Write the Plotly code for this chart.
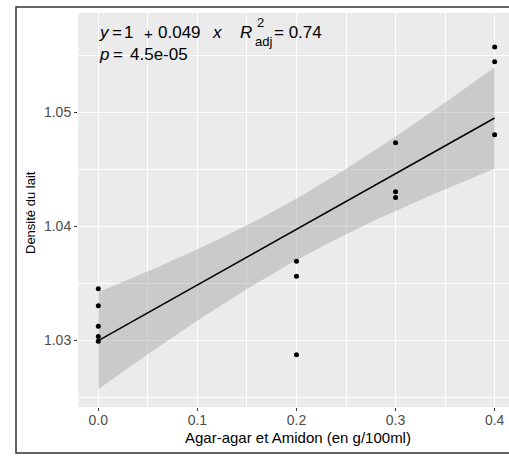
import numpy as np
import plotly.graph_objects as go

# ---- data ----
agar_amidon = [0.0, 0.0, 0.0, 0.0, 0.0, 0.2, 0.2, 0.2, 0.3, 0.3, 0.3, 0.4, 0.4, 0.4]
densite = [1.0345, 1.0330, 1.0312, 1.0303, 1.0299,
           1.0369, 1.0356, 1.0287,
           1.0473, 1.0430, 1.0425,
           1.0557, 1.0544, 1.0480]
x_ticks = [0.0, 0.1, 0.2, 0.3, 0.4]
x_ticklabels = ["0.0", "0.1", "0.2", "0.3", "0.4"]
y_ticks = [1.03, 1.04, 1.05]
y_ticklabels = ["1.03", "1.04", "1.05"]

# ---- linear fit with 95% confidence band (like geom_smooth(method="lm")) ----
x = np.array(agar_amidon)
y = np.array(densite)
n = len(x)
b1, b0 = np.polyfit(x, y, 1)
resid = y - (b0 + b1 * x)
s = np.sqrt(np.sum(resid ** 2) / (n - 2))
xbar = x.mean()
sxx = np.sum((x - xbar) ** 2)
t_crit = 2.178813  # t(0.975, df=12)
xs = np.linspace(x.min(), x.max(), 80)
ys = b0 + b1 * xs
se = s * np.sqrt(1.0 / n + (xs - xbar) ** 2 / sxx)
upper = ys + t_crit * se
lower = ys - t_crit * se

# ---- geometry helpers (pixel -> paper) ----
W, H = 509, 457
L, R, T, B = 78, 509, 13, 407
def px(xp):
    return (xp - L) / (R - L)
def py(yp):
    return (B - yp) / (B - T)

fig = go.Figure()
fig.add_trace(go.Scatter(
    x=np.concatenate([xs, xs[::-1]]), y=np.concatenate([upper, lower[::-1]]),
    fill="toself", fillcolor="rgba(153,153,153,0.4)", line=dict(width=0),
    mode="lines", hoverinfo="skip", showlegend=False))
fig.add_trace(go.Scatter(x=xs, y=ys, mode="lines",
                         line=dict(color="black", width=1.5), showlegend=False))
fig.add_trace(go.Scatter(x=agar_amidon, y=densite, mode="markers",
                         marker=dict(color="black", size=5), showlegend=False))

FONT = "Liberation Sans, Arial, sans-serif"
ann = []
def txt(t, xp, yp, size=17, anchor="left"):
    ann.append(dict(text=t, x=px(xp), y=py(yp), xref="paper", yref="paper",
                    xanchor=anchor, yanchor="middle", showarrow=False,
                    font=dict(family=FONT, size=size, color="black")))

# line 1
txt("<i>y</i>", 96.5, 32.5)
txt("=", 109.5, 32.5)
txt("1", 122, 32.5)
txt("+", 142, 33.5, size=15)
txt("0.049", 156, 32.5)
txt("<i>x</i>", 209.5, 32.5)
txt("<i>R</i>", 238, 32.5)
txt("2", 255, 22.5, size=13)
txt("adj", 253, 41.5, size=13)
txt("= 0.74", 272, 32.5)
# line 2
txt("<i>p</i>", 96.5, 54)
txt("=", 110.5, 54)
txt("4.5e-05", 128, 54)

# axis titles placed as annotations
ann.append(dict(text="Agar-agar et Amidon (en g/100ml)", x=px(297.5), y=py(437),
                xref="paper", yref="paper", xanchor="center", yanchor="middle",
                showarrow=False, font=dict(family=FONT, size=15, color="black")))
ann.append(dict(text="Densité du lait", x=px(30), y=py(213), textangle=-90,
                xref="paper", yref="paper", xanchor="center", yanchor="middle",
                showarrow=False, font=dict(family=FONT, size=13, color="black")))

frame_col = "#333333"
shapes = [
    dict(type="rect", xref="paper", yref="paper", x0=px(16), x1=px(530),
         y0=py(453), y1=py(7), fillcolor="rgba(0,0,0,0)",
         line=dict(color=frame_col, width=1.5), layer="above"),
]

xmin = -(98.3 - L) / 990.9
xmax = (R - 98.3) / 990.9
ymax = 1.05 + (112 - T) / 11400
ymin = 1.03 - (B - 340) / 11400

fig.update_layout(
    width=W, height=H,
    margin=dict(l=L, r=W - R, t=T, b=H - B, pad=0),
    paper_bgcolor="white", plot_bgcolor="#EBEBEB",
    font=dict(family=FONT),
    annotations=ann, shapes=shapes,
    xaxis=dict(range=[xmin, xmax], tickvals=x_ticks, ticktext=x_ticklabels,
               showgrid=True, gridcolor="white", gridwidth=1.1, zeroline=False,
               ticks="outside", ticklen=3, tickcolor="#333333", tickwidth=1,
               ticklabelstandoff=-3,
               tickfont=dict(family=FONT, size=14, color="#4D4D4D"),
               minor=dict(tickvals=[0.05, 0.15, 0.25, 0.35], showgrid=True,
                          gridcolor="white", gridwidth=0.5, ticks=""),
               showline=False, automargin=False),
    yaxis=dict(range=[ymin, ymax], tickvals=y_ticks, ticktext=y_ticklabels,
               showgrid=True, gridcolor="white", gridwidth=1.1, zeroline=False,
               ticks="outside", ticklen=3, tickcolor="#333333", tickwidth=1,
               tickfont=dict(family=FONT, size=14, color="#4D4D4D"),
               minor=dict(tickvals=[1.025, 1.035, 1.045, 1.055], showgrid=True,
                          gridcolor="white", gridwidth=0.5, ticks=""),
               showline=False, automargin=False),
)

fig.write_html("out.html", config={"displayModeBar": False},
               post_script=("document.body.style.margin='0';"
                            "document.body.style.overflow='hidden';"
                            "document.documentElement.style.overflow='hidden';"))
